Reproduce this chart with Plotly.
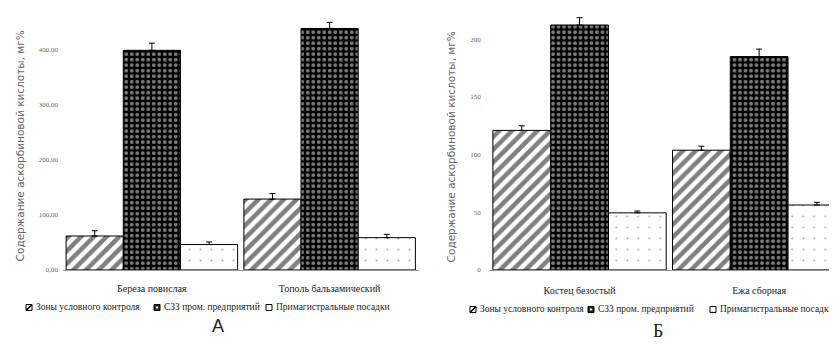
import plotly.graph_objects as go

W, H = 837, 345

# ---- data ----
series = ["Зоны условного контроля", "СЗЗ пром. предприятий", "Примагистральные посадки"]

cats_a = ["Береза повислая", "Тополь бальзамический"]
ctrl_a = [61.5, 128.4]
szz_a = [398.0, 437.6]
pri_a = [46.0, 58.5]
ctrl_a_err = [9.5, 10.0]
szz_a_err = [13.0, 11.0]
pri_a_err = [4.7, 6.0]
ticks_a = [0, 100, 200, 300, 400]
ticklabels_a = ["0,00", "100,00", "200,00", "300,00", "400,00"]

cats_b = ["Костец безостый", "Ежа сборная"]
ctrl_b = [121.0, 103.8]
szz_b = [212.4, 185.0]
pri_b = [49.5, 56.3]
ctrl_b_err = [4.0, 3.5]
szz_b_err = [6.3, 6.5]
pri_b_err = [1.6, 2.3]
ticks_b = [0, 50, 100, 150, 200]
ticklabels_b = ["0", "50", "100", "150", "200"]

ytitle = "Содержание аскорбиновой кислоты, мг%"
panel_letters = ["А", "Б"]

SERIF = "Liberation Serif, DejaVu Serif, serif"


def px(x):
    return x / W


def py(y):
    return 1 - y / H


patterns = [
    dict(shape="/", fgcolor="black", bgcolor="white", size=9, solidity=0.5),
    dict(shape=".", fgcolor="white", bgcolor="black", size=5.5, solidity=0.38),
    dict(shape=".", fgcolor="#555555", bgcolor="white", size=11, solidity=0.025),
]

fig = go.Figure()


def add_panel(cats, vals, errs, xa, ya):
    for i, (v, e) in enumerate(zip(vals, errs)):
        fig.add_trace(go.Bar(
            x=cats, y=v, name=series[i], showlegend=False,
            xaxis=xa, yaxis=ya,
            marker=dict(color="white", line=dict(color="black", width=1),
                        pattern=patterns[i]),
            error_y=dict(type="data", symmetric=False, array=e,
                         arrayminus=[0] * len(e), color="black",
                         thickness=1, width=3),
        ))


add_panel(cats_a, [ctrl_a, szz_a, pri_a], [ctrl_a_err, szz_a_err, pri_a_err], "x", "y")
add_panel(cats_b, [ctrl_b, szz_b, pri_b], [ctrl_b_err, szz_b_err, pri_b_err], "x2", "y2")

ydom = [py(265), py(5)]
tickfont = dict(family=SERIF, size=7, color="#666666")
catfont = dict(family=SERIF, size=10, color="#222222")

fig.update_layout(
    width=W, height=H,
    margin=dict(l=0, r=0, t=0, b=0),
    paper_bgcolor="white", plot_bgcolor="white",
    barmode="group", bargap=0.035, bargroupgap=0,
    showlegend=False,
    xaxis=dict(domain=[px(55), px(410.5)], range=[-0.5, 1.5], showgrid=False,
               showline=True, linecolor="#999999", linewidth=1,
               tickfont=catfont, ticks="", ticklabelstandoff=9),
    yaxis=dict(domain=ydom, range=[0, 260 / 0.5583], showgrid=False,
               zeroline=False, showline=False, tickvals=ticks_a,
               ticktext=ticklabels_a, tickfont=tickfont, ticks="",
               ticklabelstandoff=4),
    xaxis2=dict(domain=[px(481.75), 1], range=[-0.5, 1.478], showgrid=False,
                showline=True, linecolor="#999999", linewidth=1,
                tickfont=catfont, ticks="", ticklabelstandoff=11, anchor="y2"),
    yaxis2=dict(domain=ydom, range=[0, 260 / 1.1667], showgrid=False,
                zeroline=False, showline=False, tickvals=ticks_b,
                ticktext=ticklabels_b, tickfont=tickfont, ticks="",
                ticklabelstandoff=8, anchor="x2"),
)

annotations = []
shapes = []

# y titles
for xc in (12, 443):
    annotations.append(dict(
        text=ytitle, x=px(xc), y=py(140), xref="paper", yref="paper",
        xanchor="center", yanchor="middle",
        textangle=-90, showarrow=False,
        font=dict(family="DejaVu Sans", size=10.5, color="#666666"),
    ))

# panel letters
annotations.append(dict(text=panel_letters[0], x=px(210), y=py(322), xref="paper",
                        yref="paper", showarrow=False, xanchor="center", yanchor="middle",
                        font=dict(family="Liberation Sans", size=18, color="#222222")))
annotations.append(dict(text=panel_letters[1], x=px(650), y=py(327), xref="paper",
                        yref="paper", showarrow=False, xanchor="center", yanchor="middle",
                        font=dict(family=SERIF, size=18, color="#222222")))

# manual legends
legfont = dict(family=SERIF, size=9.5, color="#222222")


def legend(icon_x, ly):
    for i, ix in enumerate(icon_x):
        x0, x1 = ix, ix + 6
        y0, y1 = ly - 3, ly + 3
        if i == 1:
            shapes.append(dict(type="rect", xref="paper", yref="paper",
                               x0=px(x0), x1=px(x1), y0=py(y1), y1=py(y0),
                               line=dict(color="black", width=1), fillcolor="#222222"))
            shapes.append(dict(type="rect", xref="paper", yref="paper",
                               x0=px(x0 + 1.8), x1=px(x1 - 1.8), y0=py(y1 - 2), y1=py(y0 + 2),
                               line=dict(width=0), fillcolor="white"))
        else:
            shapes.append(dict(type="rect", xref="paper", yref="paper",
                               x0=px(x0), x1=px(x1), y0=py(y1), y1=py(y0),
                               line=dict(color="black", width=1), fillcolor="white"))
            if i == 0:
                shapes.append(dict(type="line", xref="paper", yref="paper",
                                   x0=px(x0), x1=px(x1), y0=py(y1), y1=py(y0),
                                   line=dict(color="black", width=1.5)))
        annotations.append(dict(text=series[i], x=px(x1 + 2), y=py(ly), xref="paper",
                                yref="paper", xanchor="left", yanchor="middle",
                                showarrow=False, font=legfont))


legend([18, 146, 258], 303)
legend([462, 580, 702], 305)

fig.update_layout(annotations=annotations, shapes=shapes)

fig.write_html("out.html")
